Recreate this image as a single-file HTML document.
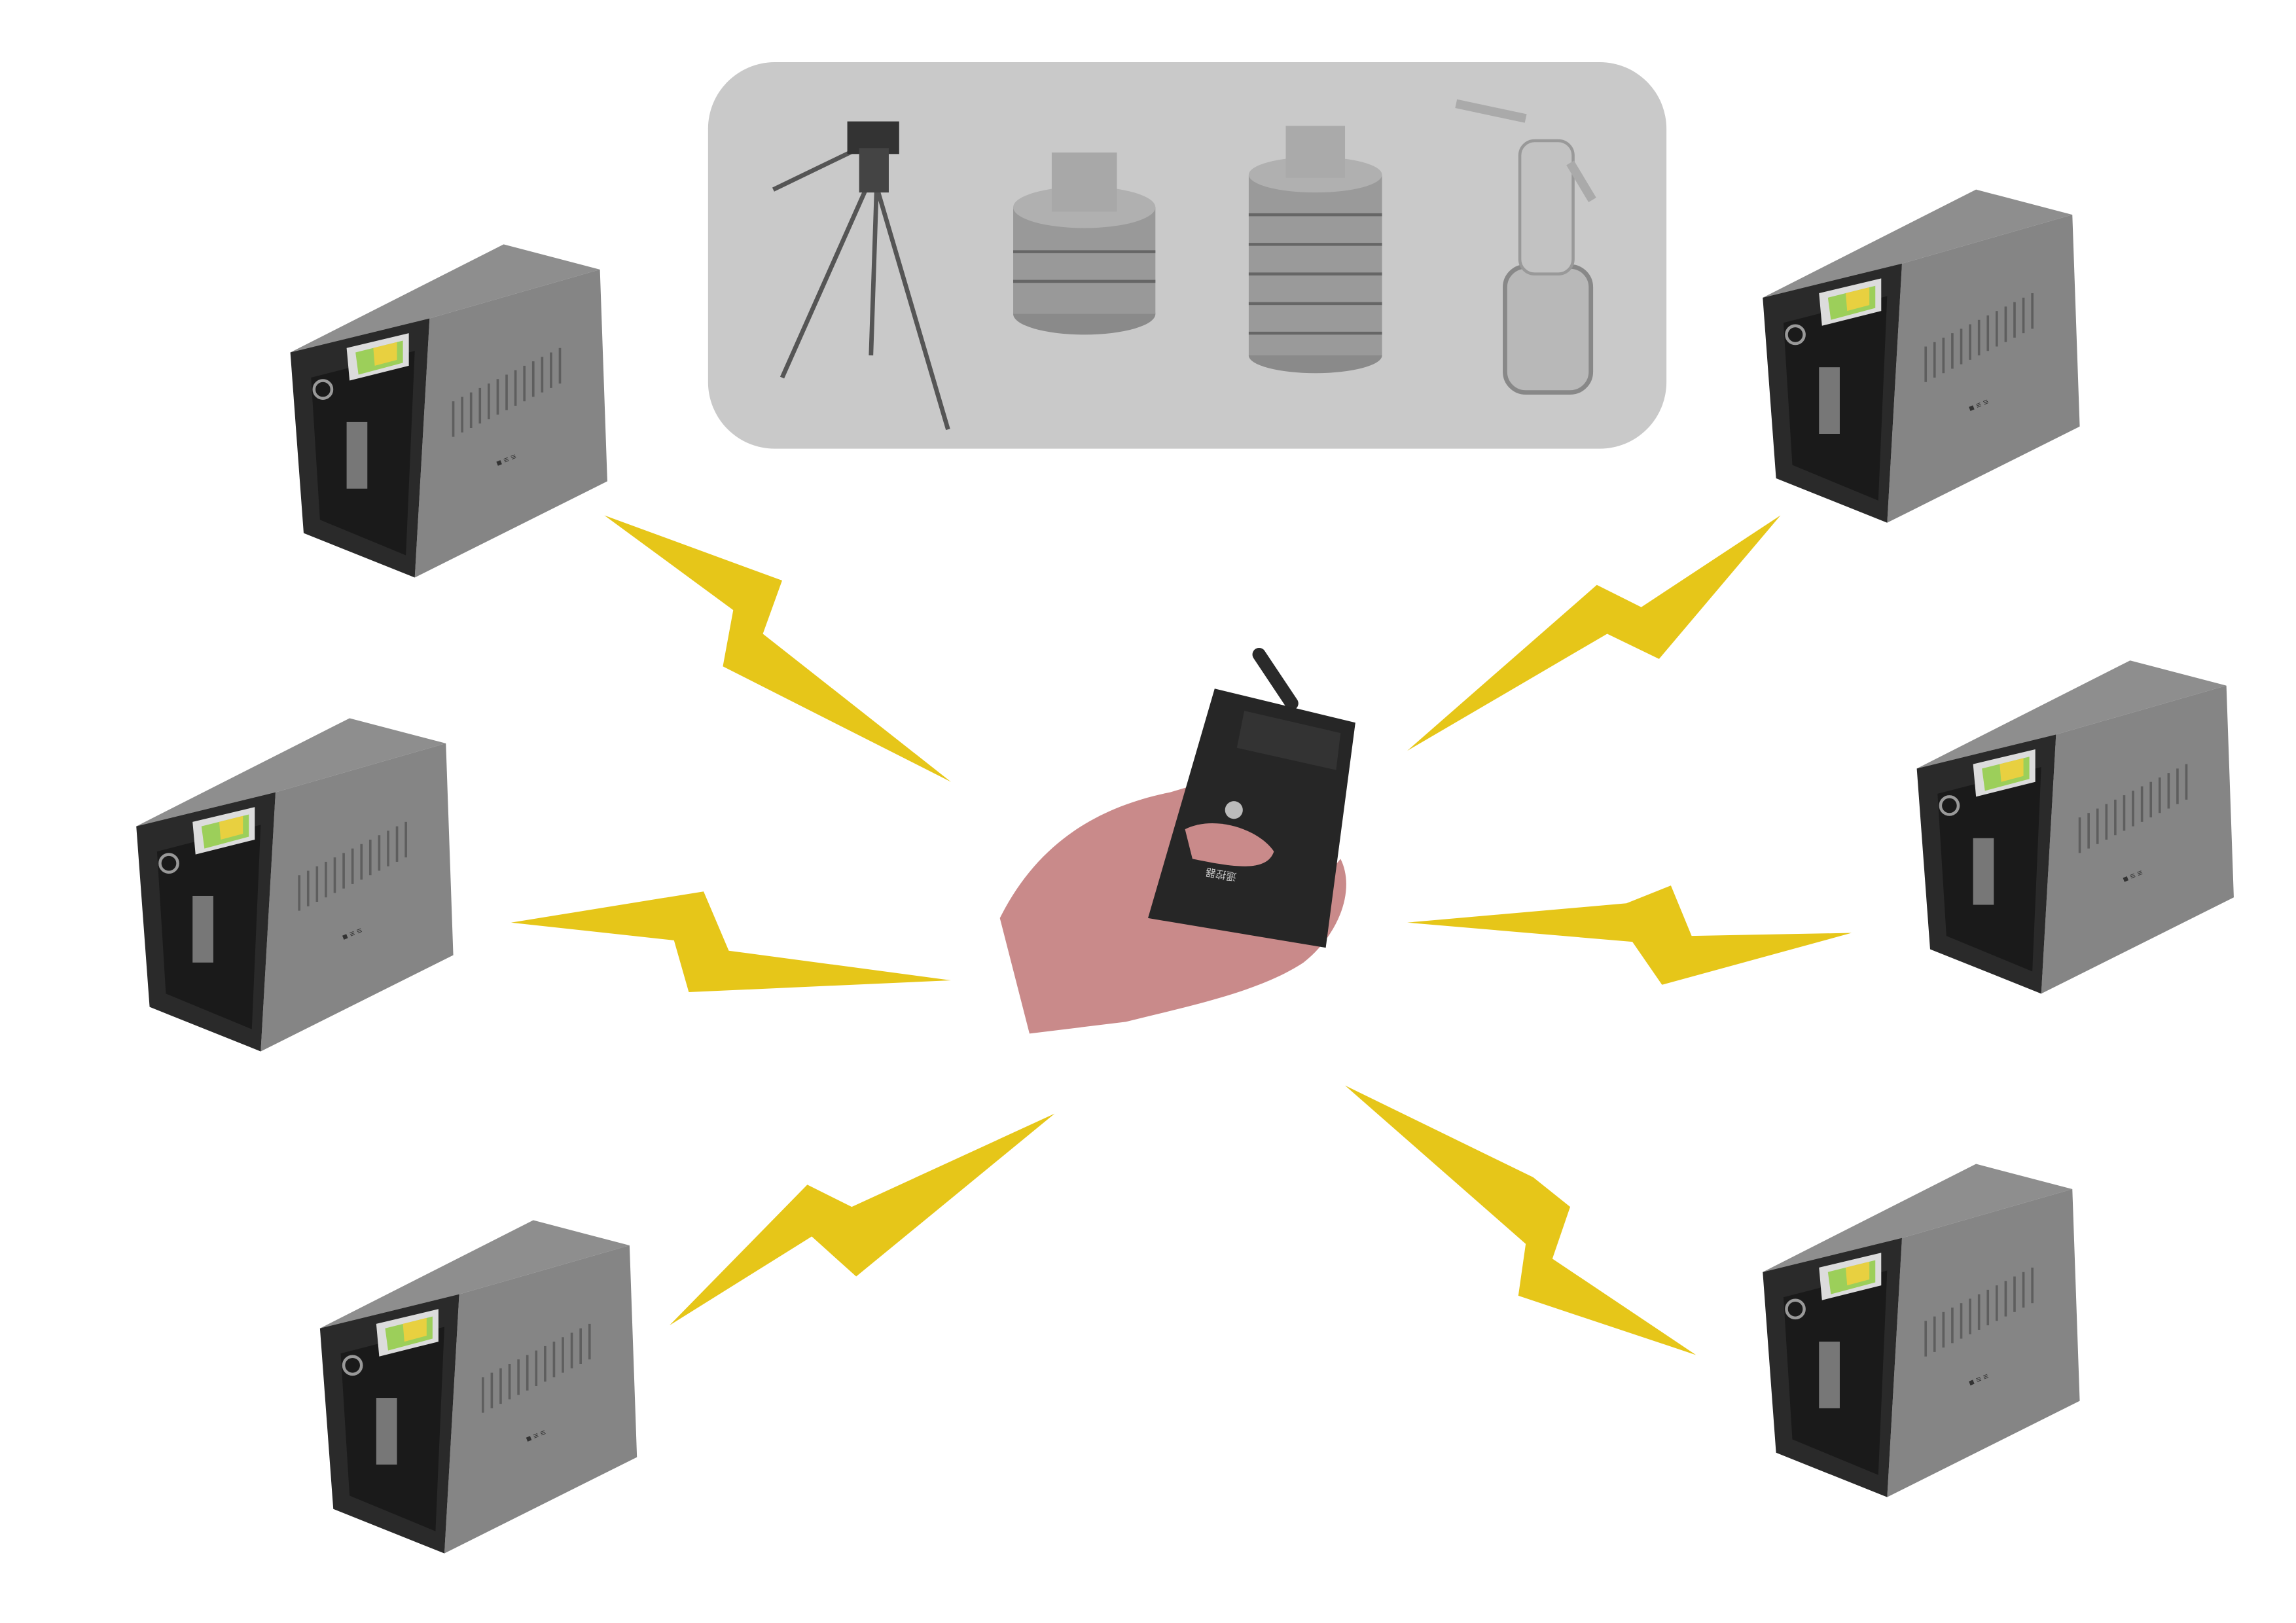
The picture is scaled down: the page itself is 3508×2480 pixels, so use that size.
<!DOCTYPE html>
<html><head><meta charset="utf-8"><style>
html,body{margin:0;padding:0;background:#fff;}
svg{display:block;}
</style></head><body>
<svg width="3508" height="2480" viewBox="0 0 1550 1096" preserveAspectRatio="none" xmlns="http://www.w3.org/2000/svg">
<defs>
<g id="dev">
  <polygon points="0,73 144,0 209,17 94,50" fill="#8e8e8e"/>
  <polygon points="94,50 209,17 214,160 84,225" fill="#858585"/>
  <polygon points="0,73 94,50 84,225 9,195" fill="#2a2a2a"/>
  <polygon points="14,90 84,72 78,210 20,186" fill="#1a1a1a"/>
  <polygon points="38,70 80,60 80,82 40,92" fill="#dcdcdc"/>
  <polygon points="44,73 76,65 76,80 46,88" fill="#9ccf5a"/>
  <polygon points="56,70 72,66 72,78 57,82" fill="#e8d040"/>
  <rect x="38" y="120" width="14" height="45" fill="#777"/>
  <circle cx="22" cy="98" r="6" fill="none" stroke="#999" stroke-width="2"/>
  <g stroke="#5e5e5e" stroke-width="1.6">
    <line x1="110" y1="130" x2="110" y2="106"/><line x1="116" y1="127" x2="116" y2="103"/>
    <line x1="122" y1="124" x2="122" y2="100"/><line x1="128" y1="121" x2="128" y2="97"/>
    <line x1="134" y1="118" x2="134" y2="94"/><line x1="140" y1="115" x2="140" y2="91"/>
    <line x1="146" y1="112" x2="146" y2="88"/><line x1="152" y1="109" x2="152" y2="85"/>
    <line x1="158" y1="106" x2="158" y2="82"/><line x1="164" y1="103" x2="164" y2="79"/>
    <line x1="170" y1="100" x2="170" y2="76"/><line x1="176" y1="97" x2="176" y2="73"/>
    <line x1="182" y1="94" x2="182" y2="70"/>
  </g>
  <text x="140" y="150" font-family="Liberation Sans, sans-serif" font-size="6" fill="#333" transform="rotate(-22 140 150)">■ ≡ ≡</text>
</g>
</defs>
<rect width="1550" height="1096" fill="#fff"/>
<!-- accessory panel -->
<rect x="478" y="42" width="647" height="261" rx="45" fill="#c9c9c9"/>
<!-- tripod -->
<g stroke="#555" stroke-width="3" fill="none">
  <line x1="588" y1="120" x2="528" y2="255"/><line x1="590" y1="120" x2="640" y2="290"/><line x1="592" y1="120" x2="588" y2="240"/>
  <line x1="522" y1="128" x2="580" y2="100"/>
</g>
<rect x="572" y="82" width="35" height="22" fill="#333"/>
<rect x="580" y="100" width="20" height="30" fill="#444"/>
<!-- container 1 -->
<ellipse cx="732" cy="212" rx="48" ry="14" fill="#8a8a8a"/>
<rect x="684" y="140" width="96" height="72" fill="#999"/>
<ellipse cx="732" cy="140" rx="48" ry="14" fill="#b0b0b0"/>
<rect x="710" y="103" width="44" height="40" fill="#a8a8a8"/>
<g stroke="#666" stroke-width="2"><line x1="684" y1="170" x2="780" y2="170"/><line x1="684" y1="190" x2="780" y2="190"/></g>
<!-- container 2 -->
<ellipse cx="888" cy="240" rx="45" ry="12" fill="#8a8a8a"/>
<rect x="843" y="118" width="90" height="122" fill="#9a9a9a"/>
<ellipse cx="888" cy="118" rx="45" ry="12" fill="#b0b0b0"/>
<rect x="868" y="85" width="40" height="35" fill="#aaa"/>
<g stroke="#666" stroke-width="2"><line x1="843" y1="145" x2="933" y2="145"/><line x1="843" y1="165" x2="933" y2="165"/><line x1="843" y1="185" x2="933" y2="185"/><line x1="843" y1="205" x2="933" y2="205"/><line x1="843" y1="225" x2="933" y2="225"/></g>
<!-- glass bottle -->
<rect x="1016" y="180" width="58" height="85" rx="14" fill="#b8b8b8" stroke="#888" stroke-width="3"/>
<rect x="1026" y="95" width="36" height="90" rx="10" fill="#c2c2c2" stroke="#999" stroke-width="2"/>
<line x1="983" y1="70" x2="1030" y2="80" stroke="#aaa" stroke-width="6"/>
<line x1="1060" y1="110" x2="1075" y2="135" stroke="#aaa" stroke-width="6"/>
<!-- devices -->
<use href="#dev" x="196" y="165"/>
<use href="#dev" x="1190" y="128"/>
<use href="#dev" x="92" y="485"/>
<use href="#dev" x="1294" y="446"/>
<use href="#dev" x="216" y="824"/>
<use href="#dev" x="1190" y="786"/>
<!-- bolts -->
<g fill="#e6c619">
  <polygon points="408,348 528,392 515,428 642,528 488,450 495,412"/>
  <polygon points="345,623 475,602 492,642 642,662 465,670 455,635"/>
  <polygon points="452,895 545,800 575,815 712,752 578,862 548,835"/>
  <polygon points="1202,348 1120,445 1085,428 950,507 1078,395 1108,410"/>
  <polygon points="950,623 1098,610 1128,598 1142,632 1250,630 1122,665 1102,636"/>
  <polygon points="908,733 1035,795 1060,815 1048,850 1145,915 1025,875 1030,840"/>
</g>
<!-- hand + remote -->
<path d="M675,620 C700,570 740,545 790,535 L840,520 C850,530 840,545 820,550 L810,600 L880,610 L905,580 C915,600 905,630 880,650 C850,670 800,680 760,690 L695,698 Z" fill="#c98a8a"/>
<line x1="850" y1="442" x2="872" y2="475" stroke="#2a2a2a" stroke-width="9" stroke-linecap="round"/>
<polygon points="820,465 915,488 895,640 775,620" fill="#262626"/>
<polygon points="840,480 905,495 902,520 835,505" fill="#333"/>
<circle cx="833" cy="547" r="6" fill="#bbb"/>
<text x="835" y="590" font-family="Liberation Sans, 'Noto Sans CJK SC', sans-serif" font-size="7" fill="#ccc" transform="rotate(190 835 590)">遥控器</text>
<path d="M800,560 C820,550 850,560 860,575 C855,590 830,585 805,580 Z" fill="#c98a8a"/>
</svg>
</body></html>
